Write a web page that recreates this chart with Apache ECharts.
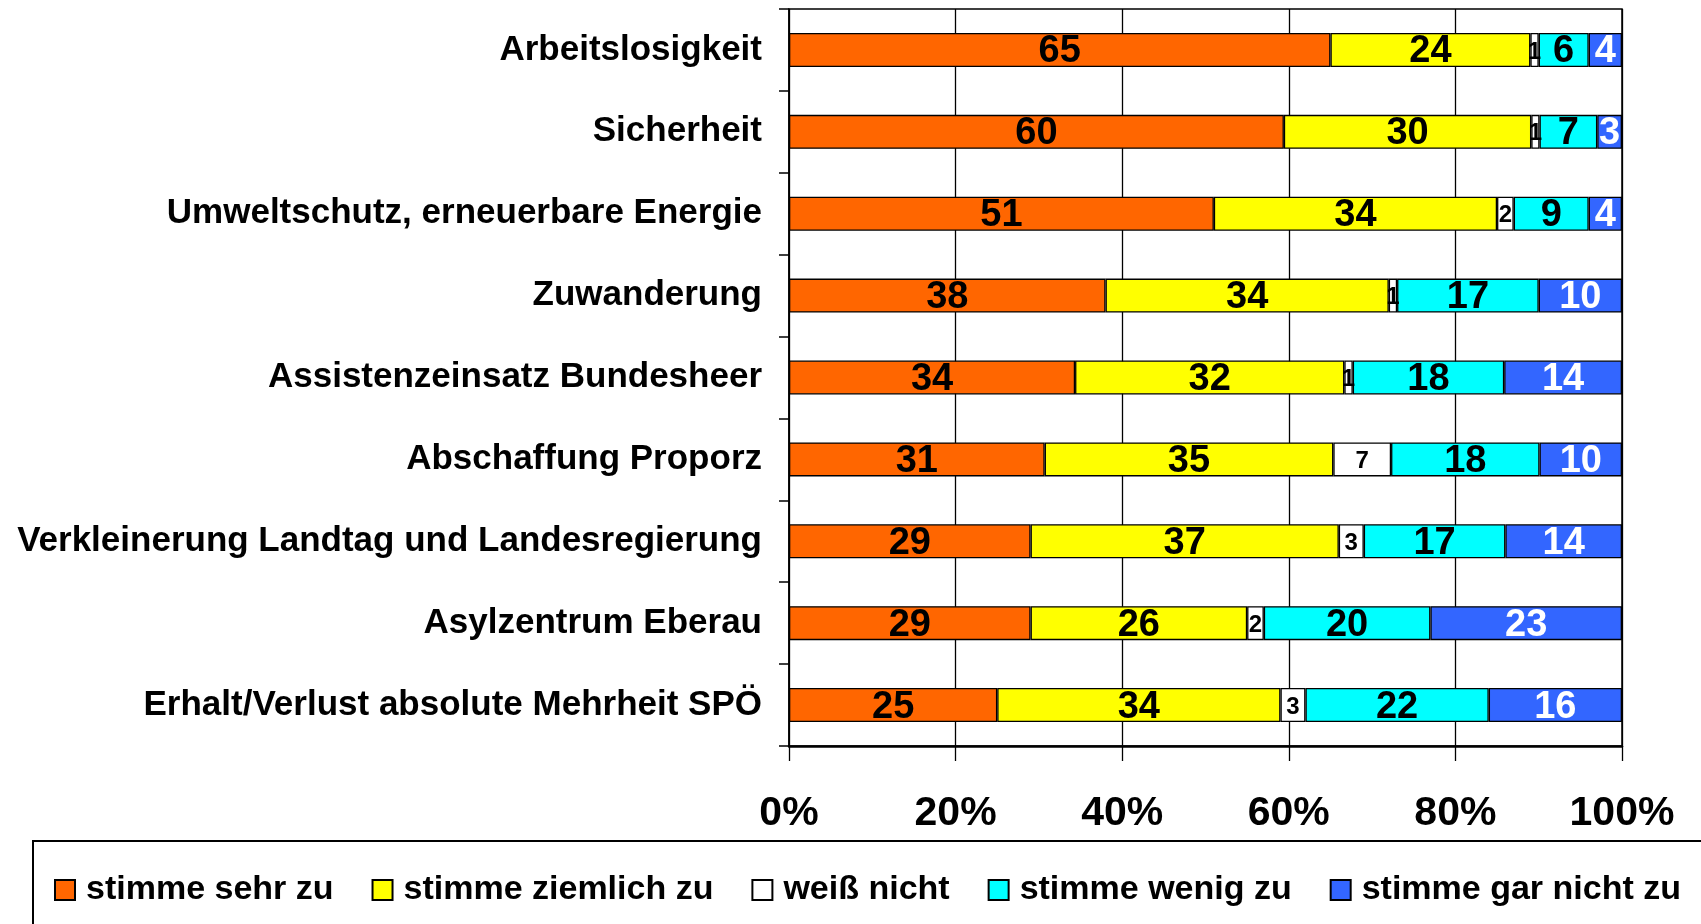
<!DOCTYPE html>
<html>
<head>
<meta charset="utf-8">
<script src="https://cdn.jsdelivr.net/npm/echarts@6/dist/echarts.min.js"></script>
<style>
html,body{margin:0;padding:0;background:#fff;}
#chart{width:1701px;height:924px;}
</style>
</head>
<body>
<div id="chart"></div>
<script>
const categories = [
  'Arbeitslosigkeit',
  'Sicherheit',
  'Umweltschutz, erneuerbare Energie',
  'Zuwanderung',
  'Assistenzeinsatz Bundesheer',
  'Abschaffung Proporz',
  'Verkleinerung Landtag und Landesregierung',
  'Asylzentrum Eberau',
  'Erhalt/Verlust absolute Mehrheit SPÖ'
];
const seriesNames = ['stimme sehr zu', 'stimme ziemlich zu', 'weiß nicht', 'stimme wenig zu', 'stimme gar nicht zu'];
const sehrZu     = [65, 60, 51, 38, 34, 31, 29, 29, 25];
const ziemlichZu = [24, 30, 34, 34, 32, 35, 37, 26, 34];
const weissNicht = [1, 1, 2, 1, 1, 7, 3, 2, 3];
const wenigZu    = [6, 7, 9, 17, 18, 18, 17, 20, 22];
const garNichtZu = [4, 3, 4, 10, 14, 10, 14, 23, 16];
const xTickValues = [0, 20, 40, 60, 80, 100];

const seriesValues = [sehrZu, ziemlichZu, weissNicht, wenigZu, garNichtZu];
const colors = ['#FF6600', '#FFFF00', '#FFFFFF', '#00FFFF', '#3366FF'];
const labelColors = ['#000', '#000', '#000', '#000', '#fff'];
const labelSizes = [38, 38, 24, 38, 38];
const totals = categories.map((c, i) => seriesValues.reduce((s, arr) => s + arr[i], 0));
const FONT = '"Liberation Sans", Arial, sans-serif';

const series = seriesNames.map((name, si) => ({
  name: name,
  type: 'bar',
  stack: 'total',
  barWidth: 34,
  data: seriesValues[si].map((v, i) => ({ value: v / totals[i] * 100 })),
  itemStyle: { color: colors[si], borderColor: '#000', borderWidth: 1.3 },
  label: {
    show: true,
    position: 'inside',
    offset: [0, 2],
    color: labelColors[si],
    fontFamily: FONT,
    fontWeight: 'bold',
    fontSize: labelSizes[si],
    formatter: p => String(seriesValues[si][p.dataIndex])
  },
  emphasis: { disabled: true },
  animation: false
}));

const chart = echarts.init(document.getElementById('chart'), null, { renderer: 'canvas' });
chart.setOption({
  backgroundColor: '#fff',
  animation: false,
  textStyle: { fontFamily: FONT },
  grid: {
    left: 789, top: 9, width: 833, height: 737,
    show: true, borderColor: '#000', borderWidth: 1.5, backgroundColor: 'transparent'
  },
  legend: {
    data: seriesNames,
    left: 49,
    top: 868,
    icon: 'rect',
    itemWidth: 20,
    itemHeight: 20,
    itemGap: 38,
    textStyle: { fontFamily: FONT, fontWeight: 'bold', fontSize: 34, color: '#000', padding: [0, 0, 0, 6] }
  },
  graphic: [{
    type: 'rect',
    shape: { x: 33, y: 841, width: 1720, height: 200 },
    style: { fill: 'none', stroke: '#000', lineWidth: 2 },
    silent: true
  }],
  xAxis: {
    type: 'value',
    min: 0, max: 100, interval: 20,
    axisLine: { show: true, lineStyle: { color: '#000', width: 2.5 } },
    axisTick: { show: true, length: 15, lineStyle: { color: '#000', width: 1.3 } },
    splitLine: { show: true, lineStyle: { color: '#000', width: 1.3 } },
    axisLabel: {
      margin: 47,
      fontFamily: FONT, fontWeight: 'bold', fontSize: 41, color: '#000',
      formatter: v => xTickValues.includes(v) ? v + '%' : ''
    }
  },
  yAxis: {
    type: 'category',
    data: categories,
    inverse: true,
    axisLine: { show: true, lineStyle: { color: '#000', width: 1.5 } },
    axisTick: { show: true, length: 10, lineStyle: { color: '#000', width: 1.5 } },
    axisLabel: { margin: 27, padding: [7, 0, 0, 0], fontFamily: FONT, fontWeight: 'bold', fontSize: 35, color: '#000' }
  },
  series: series
});
</script>
</body>
</html>
